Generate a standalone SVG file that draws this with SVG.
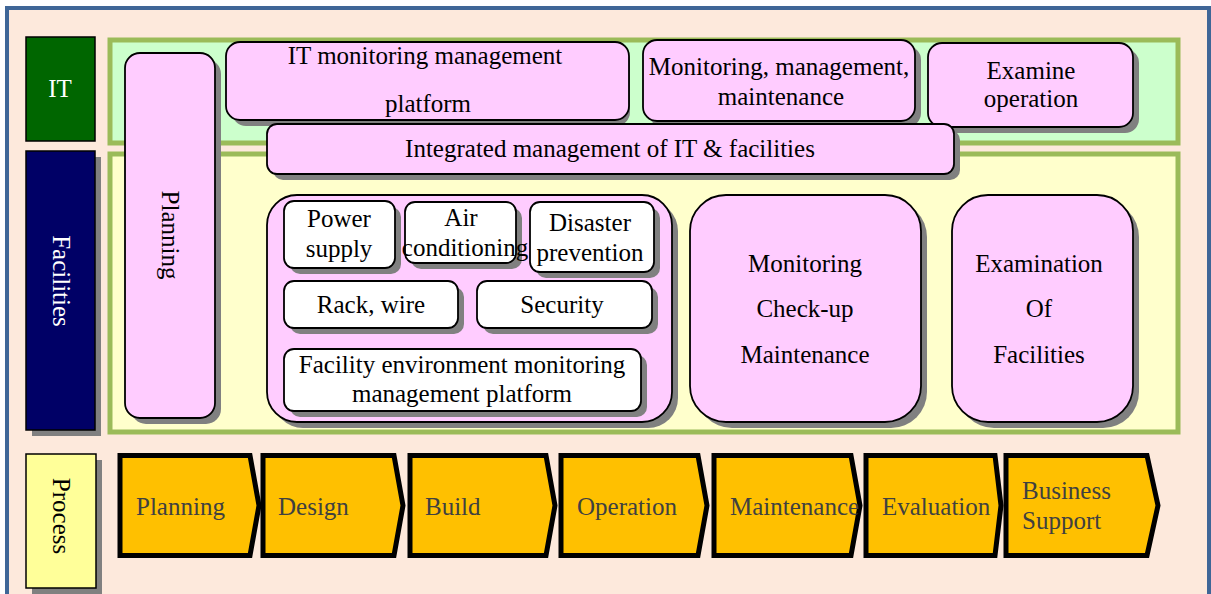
<svg xmlns="http://www.w3.org/2000/svg" width="1211" height="594" viewBox="0 0 1211 594">
<defs>
<style>
text{font-family:"Liberation Serif","Times New Roman",serif;font-size:25px;fill:#000;}
.c{text-anchor:middle;}
.box{fill:#FFCCFF;stroke:#000;stroke-width:1.8;}
.wbox{fill:#FFFFFF;stroke:#000;stroke-width:1.8;}
.sh{fill:#808080;}
.chev{fill:#FFC000;stroke:#000;stroke-width:5;}
.pt{fill:#404040;}
</style>
</defs>
<rect x="0" y="0" width="1211" height="594" fill="#FFFFFF"/>
<rect x="7" y="8" width="1202" height="600" fill="#FDE9DC" stroke="#3F6697" stroke-width="4"/>

<g id="region-it">
<rect x="110" y="40" width="1068" height="103" fill="#CCFFCC" stroke="#9BBB59" stroke-width="5"/>
</g>
<g id="region-facilities">
<rect x="110" y="154" width="1068" height="278" fill="#FFFFCC" stroke="#9BBB59" stroke-width="5"/>
</g>

<g id="label-it">
<rect x="26" y="37" width="69" height="104" fill="#006600" stroke="#000" stroke-width="1.5"/>
<text x="60" y="97" class="c" style="fill:#fff">IT</text>
</g>
<g id="label-facilities">
<rect x="32" y="157" width="69" height="279" class="sh"/>
<rect x="26" y="151" width="69" height="279" fill="#000066" stroke="#000" stroke-width="1.5"/>
<text transform="translate(53,281) rotate(90)" class="c" style="fill:#fff">Facilities</text>
</g>
<g id="label-process">
<rect x="32" y="460" width="70" height="134" class="sh"/>
<rect x="26" y="454" width="70" height="134" fill="#FFFF99" stroke="#000" stroke-width="1.5"/>
<text transform="translate(53,516) rotate(90)" class="c">Process</text>
</g>

<g id="planning">
<rect x="131" y="59" width="90" height="365" rx="15" class="sh"/>
<rect x="125" y="53" width="90" height="365" rx="15" class="box"/>
<text transform="translate(162,235) rotate(90)" class="c">Planning</text>
</g>

<g id="it-monitoring-platform">
<rect x="232" y="48" width="398" height="78" rx="14" class="sh"/>
<rect x="226" y="42" width="403" height="78" rx="14" class="box"/>
<text x="425" y="64" class="c">IT monitoring management</text>
<text x="428" y="112" class="c">platform</text>
</g>

<g id="monitoring-management-maintenance">
<rect x="649" y="46" width="272" height="81" rx="14" class="sh"/>
<rect x="643" y="40" width="272" height="81" rx="14" class="box"/>
<text x="779" y="75" class="c">Monitoring, management,</text>
<text x="781" y="105" class="c">maintenance</text>
</g>

<g id="examine-operation">
<rect x="934" y="49" width="205" height="84" rx="14" class="sh"/>
<rect x="928" y="43" width="205" height="84" rx="14" class="box"/>
<text x="1031" y="79" class="c">Examine</text>
<text x="1031" y="107" class="c">operation</text>
</g>

<g id="integrated-management">
<rect x="273" y="130" width="687" height="50" rx="10" class="sh"/>
<rect x="267" y="124" width="687" height="50" rx="10" class="box"/>
<text x="610" y="157" class="c">Integrated management of IT &amp; facilities</text>
</g>

<g id="facility-group">
<rect x="273" y="201" width="405" height="227" rx="30" class="sh"/>
<rect x="267" y="195" width="405" height="227" rx="30" class="box"/>
</g>

<g id="power-supply">
<rect x="290" y="207" width="111" height="67" rx="10" class="sh"/>
<rect x="284" y="201" width="111" height="67" rx="10" class="wbox"/>
<text x="339" y="227" class="c">Power</text>
<text x="339" y="257" class="c">supply</text>
</g>

<g id="air-conditioning">
<rect x="411" y="208" width="111" height="61" rx="10" class="sh"/>
<rect x="405" y="202" width="111" height="61" rx="10" class="wbox"/>
<text x="461" y="226" class="c">Air</text>
<text x="465" y="256" class="c">conditioning</text>
</g>

<g id="disaster-prevention">
<rect x="536" y="208" width="124" height="70" rx="10" class="sh"/>
<rect x="530" y="202" width="124" height="70" rx="10" class="wbox"/>
<text x="590" y="231" class="c">Disaster</text>
<text x="590" y="261" class="c">prevention</text>
</g>

<g id="rack-wire">
<rect x="290" y="287" width="174" height="47" rx="10" class="sh"/>
<rect x="284" y="281" width="174" height="47" rx="10" class="wbox"/>
<text x="371" y="313" class="c">Rack, wire</text>
</g>

<g id="security">
<rect x="483" y="287" width="175" height="47" rx="10" class="sh"/>
<rect x="477" y="281" width="175" height="47" rx="10" class="wbox"/>
<text x="562" y="313" class="c">Security</text>
</g>

<g id="facility-env-platform">
<rect x="290" y="355" width="357" height="62" rx="10" class="sh"/>
<rect x="284" y="349" width="357" height="62" rx="10" class="wbox"/>
<text x="462" y="373" class="c">Facility environment monitoring</text>
<text x="462" y="402" class="c">management platform</text>
</g>

<g id="monitoring-checkup-maintenance">
<rect x="696" y="201" width="231" height="227" rx="36" class="sh"/>
<rect x="690" y="195" width="231" height="227" rx="36" class="box"/>
<text x="805" y="272" class="c">Monitoring</text>
<text x="805" y="317" class="c">Check-up</text>
<text x="805" y="363" class="c">Maintenance</text>
</g>

<g id="examination-facilities">
<rect x="958" y="201" width="181" height="227" rx="36" class="sh"/>
<rect x="952" y="195" width="181" height="227" rx="36" class="box"/>
<text x="1039" y="272" class="c">Examination</text>
<text x="1039" y="317" class="c">Of</text>
<text x="1039" y="363" class="c">Facilities</text>
</g>

<g id="process-planning">
<path d="M120,455.5 H250 L259,505.5 L250,555.5 H120 Z" class="chev"/>
<text x="136" y="515" class="pt">Planning</text>
</g>
<g id="process-design">
<path d="M263,455.5 H394 L403,505.5 L394,555.5 H263 Z" class="chev"/>
<text x="278" y="515" class="pt">Design</text>
</g>
<g id="process-build">
<path d="M410,455.5 H546 L555,505.5 L546,555.5 H410 Z" class="chev"/>
<text x="425" y="515" class="pt">Build</text>
</g>
<g id="process-operation">
<path d="M561,455.5 H698 L707,505.5 L698,555.5 H561 Z" class="chev"/>
<text x="577" y="515" class="pt">Operation</text>
</g>
<g id="process-maintenance">
<path d="M714,455.5 H851 L860,505.5 L851,555.5 H714 Z" class="chev"/>
<text x="730" y="515" class="pt">Maintenance</text>
</g>
<g id="process-evaluation">
<path d="M866,455.5 H995 L1001,505.5 L995,555.5 H866 Z" class="chev"/>
<text x="882" y="515" class="pt">Evaluation</text>
</g>
<g id="process-business-support">
<path d="M1006,455.5 H1147 L1158,505.5 L1147,555.5 H1006 Z" class="chev"/>
<text x="1022" y="499" class="pt">Business</text>
<text x="1022" y="529" class="pt">Support</text>
</g>

<g id="connectors"></g>
</svg>
